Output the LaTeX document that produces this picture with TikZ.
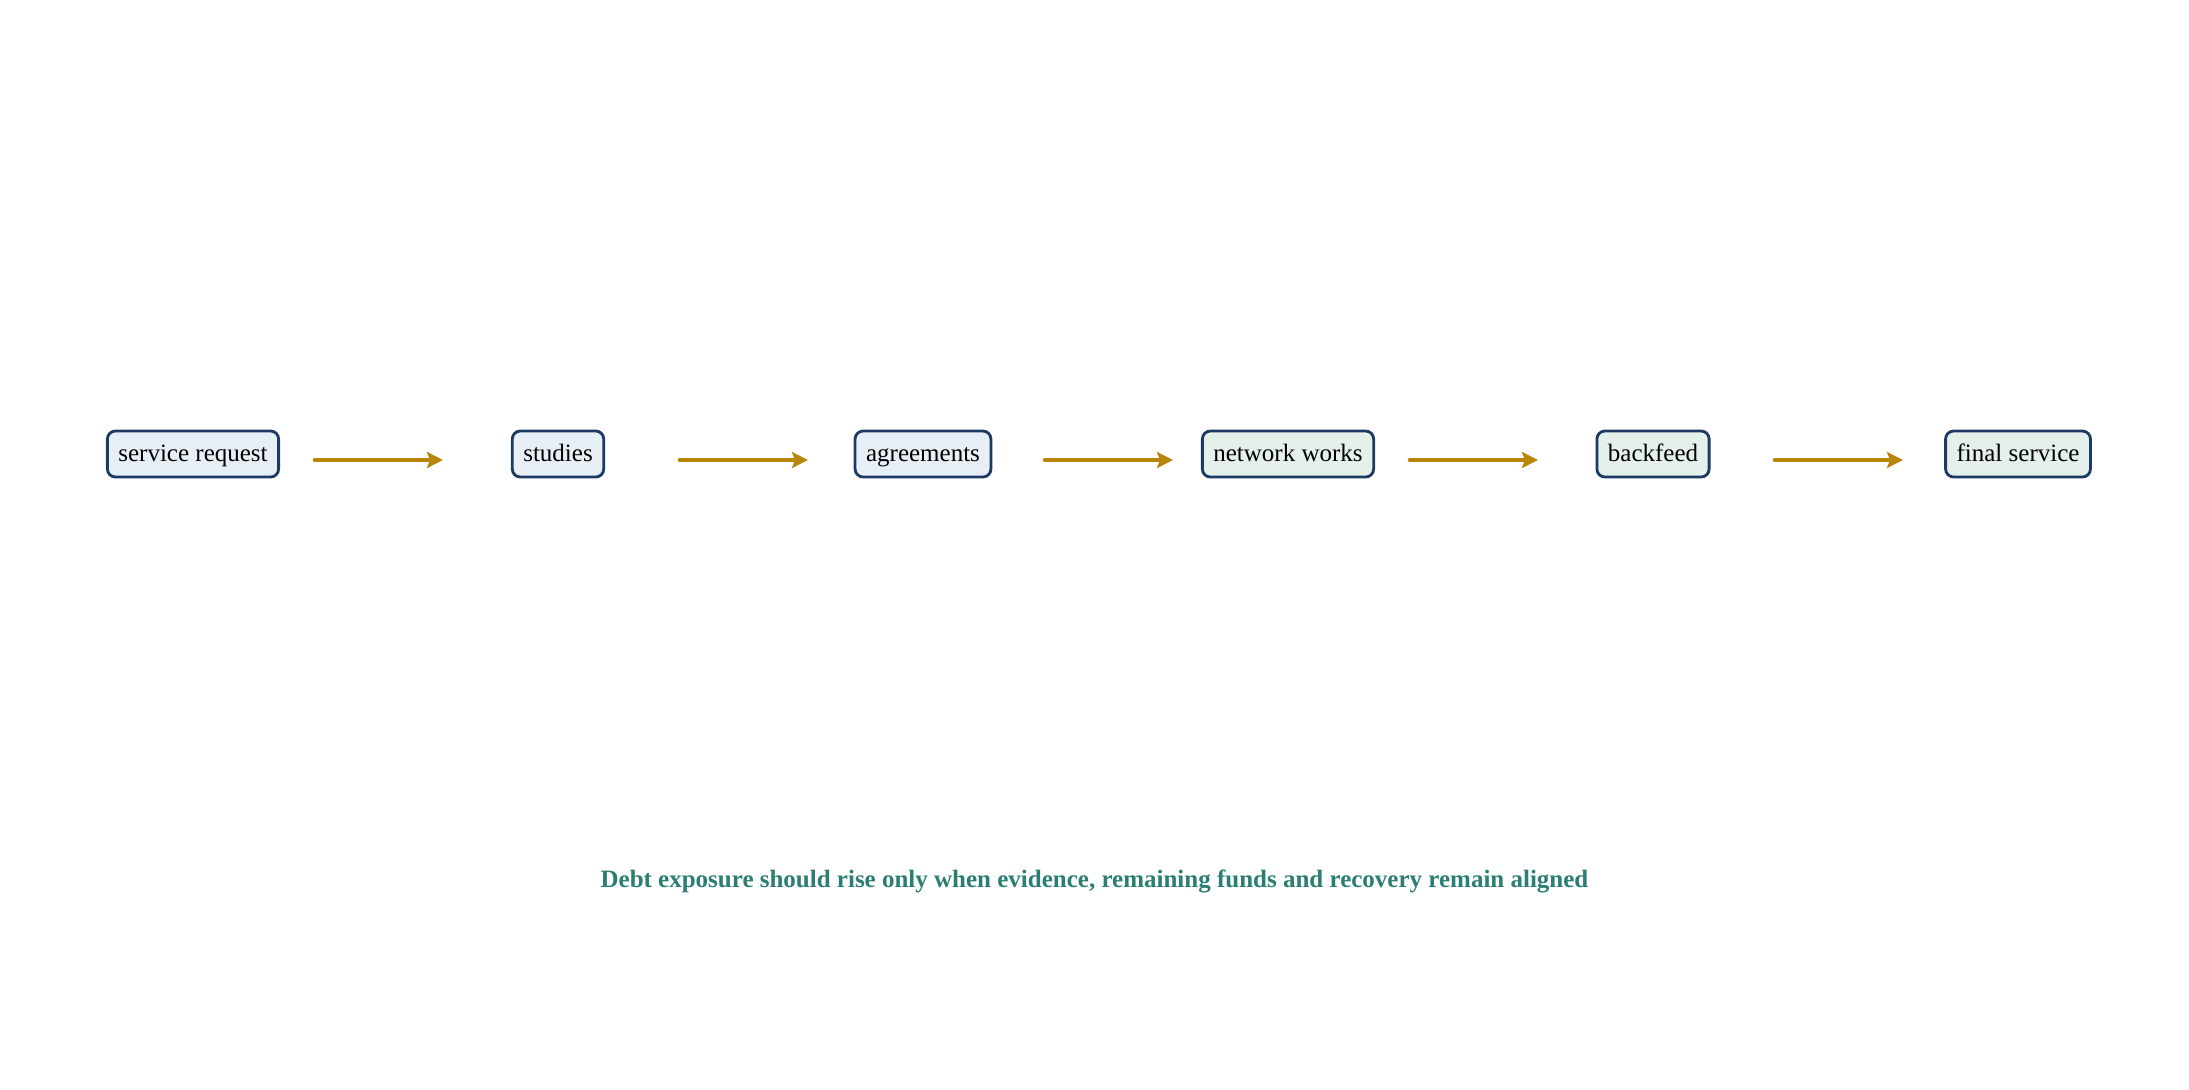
\documentclass[tikz,border=0pt]{standalone}
\usepackage{fontspec}
\setmainfont{Liberation Serif}
\usetikzlibrary{arrows.meta}
\definecolor{boxline}{HTML}{1C3A63}
\definecolor{bluefill}{HTML}{E8EEF6}
\definecolor{greenfill}{HTML}{E6F0EB}
\definecolor{flowgold}{HTML}{B8860B}
\definecolor{noteteal}{HTML}{2B7E73}
\tikzset{
  stage/.style={draw=boxline,line width=1.4pt,rounded corners=4pt,
    inner xsep=5.5pt,inner ysep=5pt,text height=10pt,text depth=3pt,
    font=\fontsize{12.5}{15}\selectfont},
  flow/.style={-{Stealth[length=8pt,width=8pt,inset=1.5pt]},draw=flowgold,
    line width=2.3pt,line cap=round,shorten <=61pt,shorten >=57.5pt}
}

\begin{document}
\begin{tikzpicture}[x=0.5pt,y=-0.5pt]
  \useasboundingbox (0,0) rectangle (2189,1089);
  \node[stage,fill=bluefill] (request) at (193,454) {service request};
  \node[stage,fill=bluefill] (studies) at (558,454) {studies};
  \node[stage,fill=bluefill] (agree) at (923,454) {agreements};
  \node[stage,fill=greenfill] (works) at (1288,454) {network works};
  \node[stage,fill=greenfill] (backfeed) at (1653,454) {backfeed};
  \node[stage,fill=greenfill] (final) at (2018,454) {final service};
  \path
    ([yshift=-3pt]request.center) edge[flow] ([yshift=-3pt]studies.center)
    ([yshift=-3pt]studies.center) edge[flow] ([yshift=-3pt]agree.center)
    ([yshift=-3pt]agree.center) edge[flow] ([yshift=-3pt]works.center)
    ([yshift=-3pt]works.center) edge[flow] ([yshift=-3pt]backfeed.center)
    ([yshift=-3pt]backfeed.center) edge[flow] ([yshift=-3pt]final.center);
  \node[text=noteteal,font=\fontsize{12.5}{15}\selectfont\bfseries] (note) at (1094.5,881)
    {Debt exposure should rise only when evidence, remaining funds and recovery remain aligned};
\end{tikzpicture}
\end{document}
